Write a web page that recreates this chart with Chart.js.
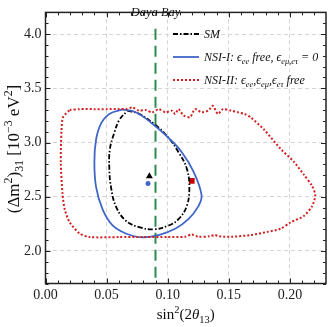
<!DOCTYPE html>
<html>
<head>
<meta charset="utf-8">
<script src="https://cdn.jsdelivr.net/npm/chart.js@4.4.0/dist/chart.umd.min.js"></script>
<style>
  html, body { margin: 0; padding: 0; background: #fff; }
  canvas { display: block; }
</style>
</head>
<body>
<canvas id="chart" width="330" height="327"></canvas>
<script>
// 90% CL contours, x = sin^2(2 theta13), y = dm31^2 [1e-3 eV^2]
const smX = [0.0670, 0.0765, 0.0900, 0.1007, 0.1088, 0.1155, 0.1177, 0.1155, 0.1088, 0.1007, 0.0886, 0.0765, 0.0657, 0.0576, 0.0536, 0.0522, 0.0527, 0.0562, 0.0603, 0.0670];
const smY = [3.294, 3.264, 3.161, 3.043, 2.911, 2.764, 2.588, 2.411, 2.293, 2.235, 2.200, 2.220, 2.279, 2.411, 2.588, 2.764, 2.941, 3.087, 3.206, 3.294];

const nsi1X = [0.0629, 0.0738, 0.0872, 0.1007, 0.1115, 0.1210, 0.1277, 0.1250, 0.1169, 0.1061, 0.0926, 0.0791, 0.0657, 0.0549, 0.0468, 0.0414, 0.0400, 0.0414, 0.0455, 0.0522, 0.0629];
const nsi1Y = [3.305, 3.279, 3.176, 3.043, 2.911, 2.734, 2.514, 2.411, 2.293, 2.205, 2.147, 2.125, 2.161, 2.235, 2.381, 2.588, 2.823, 3.029, 3.176, 3.264, 3.305];

const nsi2X = [0.0198, 0.0279, 0.0400, 0.0500, 0.0600, 0.0657, 0.0710, 0.0765, 0.0819, 0.0872, 0.0926, 0.0980, 0.1034, 0.1061, 0.1088, 0.1129, 0.1183, 0.1223, 0.1277, 0.1330, 0.1370, 0.1410, 0.1452, 0.1520, 0.1574, 0.1628, 0.1680,
  0.1790, 0.1924, 0.2032, 0.2113, 0.2180, 0.2207, 0.2180, 0.2113, 0.2005, 0.1924, 0.1816, 0.1680, 0.1520, 0.1420, 0.1385, 0.1340, 0.1250, 0.1196, 0.1142, 0.1000, 0.0800, 0.0600, 0.0360,
  0.0279, 0.0198, 0.0158, 0.0139, 0.0125, 0.0131, 0.0144, 0.0198];
const nsi2Y = [3.300, 3.308, 3.308, 3.308, 3.310, 3.308, 3.323, 3.294, 3.300, 3.279, 3.308, 3.279, 3.294, 3.264, 3.308, 3.250, 3.235, 3.308, 3.279, 3.294, 3.338, 3.264, 3.308, 3.294, 3.279, 3.264, 3.230,
  3.117, 2.941, 2.823, 2.705, 2.602, 2.514, 2.411, 2.323, 2.264, 2.205, 2.176, 2.147, 2.131, 2.135, 2.147, 2.135, 2.131, 2.152, 2.131, 2.128, 2.128, 2.128, 2.128,
  2.161, 2.264, 2.381, 2.529, 2.823, 3.117, 3.235, 3.300];

// best fit points
const smBest = [0.0850, 2.690];
const nsi1Best = [0.0839, 2.623];
const nsi2Best = [0.1197, 2.646];

// Daya Bay central value (line stops under its label)
const dayaBayX = 0.09;
const dayaBayY = [4.05, 1.7];

const xRange = [0, 0.2295];
const yRange = [1.7, 4.2];
const xTicks = [0, 0.05, 0.10, 0.15, 0.20];
const yTicks = [2.0, 2.5, 3.0, 3.5, 4.0];

const SERIF = '"Liberation Serif", "Times New Roman", serif';
const BLUE = '#4067c8';
const RED = '#d21f1f';
const GREEN = '#2c8a50';

function pairs(xs, ys) {
  return xs.map((x, i) => ({ x: x, y: ys[i] }));
}

// writes text pieces ('' normal, 'sup', 'sub', 'it') and gives back the width
function richText(ctx, parts, x, y, size, italic, draw) {
  let w = 0;
  parts.forEach(p => {
    const txt = p[0], kind = p[1] || '';
    const small = kind === 'sup' || kind === 'sub';
    const s = small ? size * 0.7 : size;
    ctx.font = (italic || kind === 'it' ? 'italic ' : '') + s + 'px ' + SERIF;
    if (draw) {
      let dy = 0;
      if (kind === 'sup') dy = -size * 0.4;
      if (kind === 'sub') dy = size * 0.25;
      ctx.fillText(txt, x + w, y + dy);
    }
    w += ctx.measureText(txt).width;
  });
  return w;
}

const legendRows = [
  { color: '#000', dash: [5, 2, 1.5, 2], width: 1.8, parts: [['SM']] },
  { color: BLUE, dash: [], width: 1.8, parts: [['NSI-I: \u03f5'], ['ee', 'sub'], [' free, \u03f5'], ['e\u03bc,e\u03c4', 'sub'], [' = 0']] },
  { color: RED, dash: [2, 2], width: 2, parts: [['NSI-II: \u03f5'], ['ee', 'sub'], [',\u03f5'], ['e\u03bc', 'sub'], [',\u03f5'], ['e\u03c4', 'sub'], [' free']] }
];

const framePlugin = {
  id: 'frame',
  afterDatasetsDraw(chart) {
    const ctx = chart.ctx;
    const a = chart.chartArea;
    const sx = chart.scales.x, sy = chart.scales.y;
    ctx.save();
    ctx.strokeStyle = '#222';
    ctx.lineWidth = 1;
    ctx.setLineDash([]);
    ctx.beginPath();
    // inner ticks, bottom and top
    for (let i = 0; i <= 23; i++) {
      const px = Math.round(sx.getPixelForValue(i / 100)) + 0.5;
      if (px > a.right - 1) break;
      const len = i % 5 === 0 ? 5 : 3;
      ctx.moveTo(px, a.bottom); ctx.lineTo(px, a.bottom - len);
      ctx.moveTo(px, a.top); ctx.lineTo(px, a.top + len);
    }
    // inner ticks, left and right
    for (let i = 17; i <= 42; i++) {
      const py = Math.round(sy.getPixelForValue(i / 10)) + 0.5;
      const len = i % 5 === 0 ? 5 : 3;
      ctx.moveTo(a.left, py); ctx.lineTo(a.left + len, py);
      ctx.moveTo(a.right, py); ctx.lineTo(a.right - len, py);
    }
    ctx.stroke();
    ctx.lineWidth = 1.5;
    ctx.strokeRect(a.left, a.top, a.right - a.left, a.bottom - a.top);

    // legend
    ctx.fillStyle = '#111';
    ctx.textBaseline = 'alphabetic';
    ctx.textAlign = 'left';
    legendRows.forEach((r, i) => {
      const y = [34, 57, 80][i];
      ctx.beginPath();
      ctx.strokeStyle = r.color;
      ctx.lineWidth = r.width;
      ctx.setLineDash(r.dash);
      ctx.moveTo(173, y); ctx.lineTo(199, y);
      ctx.stroke();
      ctx.setLineDash([]);
      richText(ctx, r.parts, 204, y + 4, 12, true, true);
    });

    // Daya Bay label
    const dbText = [['Daya Bay']];
    const dbx = sx.getPixelForValue(dayaBayX);
    const w = richText(ctx, dbText, 0, 0, 12.5, true, false);
    richText(ctx, dbText, dbx - w / 2, 16, 12.5, true, true);

    // x title
    const xt = [['sin'], ['2', 'sup'], ['(2'], ['\u03b8', 'it'], ['13', 'sub'], [')']];
    const xw = richText(ctx, xt, 0, 0, 15, false, false);
    richText(ctx, xt, (a.left + a.right) / 2 - xw / 2, 319, 15, false, true);

    // y title
    const yt = [['(\u0394m'], ['2', 'sup'], [')'], ['31', 'sub'], [' [10'], ['\u22123', 'sup'], [' eV'], ['2', 'sup'], [']']];
    const yw = richText(ctx, yt, 0, 0, 17, false, false);
    ctx.translate(19, 149);
    ctx.rotate(-Math.PI / 2);
    richText(ctx, yt, -yw / 2, 0, 17, false, true);
    ctx.restore();
  }
};

const tickFont = { family: SERIF, size: 14 };

new Chart(document.getElementById('chart').getContext('2d'), {
  type: 'scatter',
  data: {
    datasets: [
      {
        label: 'NSI-II',
        data: pairs(nsi2X, nsi2Y),
        showLine: true, tension: 0.25, pointRadius: 0,
        borderColor: RED, borderWidth: 2, borderDash: [2, 2]
      },
      {
        label: 'NSI-I',
        data: pairs(nsi1X, nsi1Y),
        showLine: true, tension: 0.4, pointRadius: 0,
        borderColor: BLUE, borderWidth: 1.8
      },
      {
        label: 'SM',
        data: pairs(smX, smY),
        showLine: true, tension: 0.4, pointRadius: 0,
        borderColor: '#000', borderWidth: 1.8, borderDash: [5, 2, 1.5, 2]
      },
      {
        label: 'Daya Bay',
        data: dayaBayY.map(y => ({ x: dayaBayX, y: y })),
        showLine: true, pointRadius: 0,
        borderColor: GREEN, borderWidth: 2, borderDash: [11, 6]
      },
      {
        label: 'SM best fit',
        data: [{ x: smBest[0], y: smBest[1] }],
        pointStyle: 'triangle', pointRadius: 4,
        backgroundColor: '#000', borderColor: '#000', borderWidth: 0
      },
      {
        label: 'NSI-I best fit',
        data: [{ x: nsi1Best[0], y: nsi1Best[1] }],
        pointStyle: 'circle', pointRadius: 2.5,
        backgroundColor: BLUE, borderColor: BLUE, borderWidth: 0
      },
      {
        label: 'NSI-II best fit',
        data: [{ x: nsi2Best[0], y: nsi2Best[1] }],
        pointStyle: 'rect', pointRadius: 4,
        backgroundColor: '#c80000', borderColor: '#c80000', borderWidth: 0
      }
    ]
  },
  options: {
    responsive: false,
    animation: false,
    layout: { padding: { top: 0.5, right: 1, left: 0, bottom: 0 } },
    plugins: { legend: { display: false }, tooltip: { enabled: false } },
    scales: {
      x: {
        type: 'linear', min: xRange[0], max: xRange[1],
        afterFit: s => { s.height = 43.5; },
        afterBuildTicks: s => { s.ticks = xTicks.map(v => ({ value: v })); },
        ticks: { font: tickFont, color: '#222', padding: 3, callback: v => v.toFixed(2) },
        grid: { color: '#d4d4d4', lineWidth: 1, drawTicks: false },
        border: { display: false, dash: [4, 3] }
      },
      y: {
        type: 'linear', min: yRange[0], max: yRange[1],
        afterFit: s => { s.width = 45.5; },
        afterBuildTicks: s => { s.ticks = yTicks.map(v => ({ value: v })); },
        ticks: { font: tickFont, color: '#222', padding: 4, callback: v => v.toFixed(1) },
        grid: { color: '#d4d4d4', lineWidth: 1, drawTicks: false },
        border: { display: false, dash: [4, 3] }
      }
    }
  },
  plugins: [framePlugin]
});
</script>
</body>
</html>
